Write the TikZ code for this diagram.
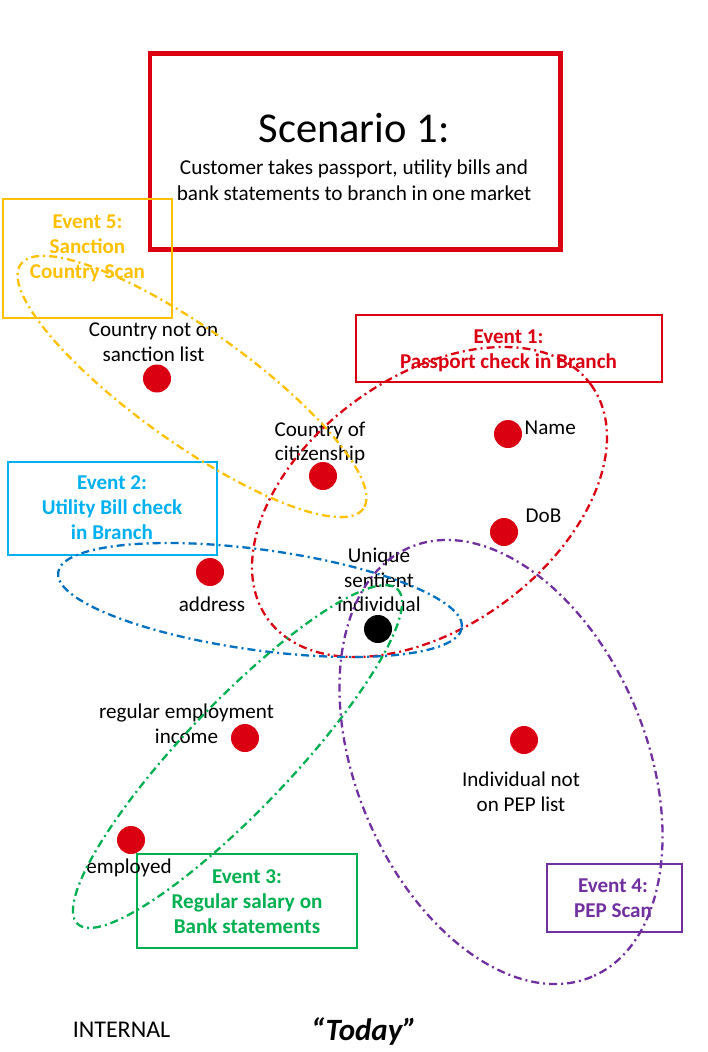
\documentclass[tikz,border=0pt]{standalone}
\usepackage{fontspec}
\setmainfont{Carlito}
\definecolor{cRed}{RGB}{218,0,18}
\definecolor{cOrange}{RGB}{255,192,0}
\definecolor{cCyan}{RGB}{0,176,240}
\definecolor{cBlue}{RGB}{0,112,192}
\definecolor{cGreen}{RGB}{0,176,80}
\definecolor{cPurple}{RGB}{112,48,160}
\begin{document}
\begin{tikzpicture}[x=1pt,y=-1pt,
  lbl/.style={inner sep=0pt, align=center, font=\fontsize{21.1}{24.8}\selectfont},
  evtext/.style={inner sep=0pt, align=center, text=#1,
    font=\fontsize{21.1}{25}\selectfont\bfseries},
  evbox/.style={draw=#1, line width=1.8pt, inner sep=0pt, rectangle},
  fact/.style={circle, fill=cRed, minimum size=28pt, inner sep=0pt},
  ring/.style={draw=#1, line width=2.3pt, dash pattern=on 8pt off 4pt on 2pt off 4pt}]
\useasboundingbox (0,0) rectangle (707,1052);

% scenario header
\node[draw=cRed, line width=4.5pt, minimum width=410.5pt, minimum height=196pt, inner sep=0pt]
  (scen) at (355.25,151.5) {};
\node[inner sep=0pt, font=\fontsize{42.5}{50}\selectfont] (title) at (354,128) {Scenario 1:};
\node[inner sep=0pt, align=center, font=\fontsize{21.2}{26}\selectfont] (sub) at (354,180)
  {Customer takes passport, utility bills and\\bank statements to branch in one market};

% event boxes
\node[evbox=cRed, minimum width=306pt, minimum height=67pt] (b1) at (509,348.5) {};
\node[evtext=cRed] (e1) at (508.5,351) {Event 1:\\Passport check in Branch};
\node[evbox=cCyan, minimum width=208.4pt, minimum height=93.3pt] (b2) at (112.5,508.3) {};
\node[evtext=cCyan] (e2) at (112,508) {Event 2:\\Utility Bill check\\in Branch};
\node[evbox=cGreen, minimum width=219.4pt, minimum height=93.4pt] (b3) at (247,901) {};
\node[evtext=cGreen] (e3) at (247,902) {Event 3:\\Regular salary on\\Bank statements};
\node[evbox=cPurple, minimum width=135pt, minimum height=68pt] (b4) at (614.5,897.7) {};
\node[evtext=cPurple] (e4) at (613,898) {Event 4:\\PEP Scan};
\node[evbox=cOrange, minimum width=169pt, minimum height=118.7pt] (b5) at (87.2,258.3) {};
\node[evtext=cOrange] (e5) at (87.5,248.5) {Event 5:\\Sanction\\Country Scan};

% facts
\node[fact] (fsanc) at (157,378.5) {};
\node[lbl] (lsanc) at (153.5,342) {Country not on\\sanction list};
\node[fact] (fcit) at (323,476) {};
\node[lbl] (lcit) at (320,443) {Country of\\citizenship};
\node[fact] (fname) at (508,434) {};
\node[lbl, anchor=west] (lname) at (524.5,427.4) {Name};
\node[fact] (fdob) at (504,532) {};
\node[lbl, anchor=west] (ldob) at (525.5,515.5) {DoB};
\node[fact] (faddr) at (210,572) {};
\node[lbl] (laddr) at (212,604) {address};
\node[circle, fill=black, minimum size=28pt, inner sep=0pt] (person) at (378,629) {};
\node[lbl] (lperson) at (379,580) {Unique\\sentient\\individual};
\node[fact] (fincome) at (245,738) {};
\node[lbl] (lincome) at (186.5,723.5) {regular employment\\income};
\node[fact] (femp) at (131,840) {};
\node[lbl] (lemp) at (129,868) {employed};
\node[fact] (fpep) at (524,740) {};
\node[lbl] (lpep) at (521,792) {Individual not\\on PEP list};

% event scopes
\draw[ring=cOrange, rotate around={-35.5:(192,386.5)}] (192,386.5) ellipse [x radius=210.4, y radius=56.7];
\draw[ring=cRed, rotate around={36:(429.5,502)}] (429.5,502) ellipse [x radius=199.6, y radius=125.2];
\draw[ring=cBlue, rotate around={-7.8:(260,600)}] (260,600) ellipse [x radius=203.8, y radius=50.3];
\draw[ring=cGreen, rotate around={46.3:(237.5,756.5)}] (237.5,756.5) ellipse [x radius=231.5, y radius=53.5];
\draw[ring=cPurple, rotate around={-67:(501,762)}] (501,762) ellipse [x radius=233.2, y radius=144.9];

% footer
\node[inner sep=0pt, font=\fontsize{24}{28}\selectfont] (internal) at (121.5,1030) {INTERNAL};
\node[inner sep=0pt, font=\fontsize{31}{36}\selectfont\bfseries\itshape] (today) at (364,1032) {“Today”};
\end{tikzpicture}
\end{document}
